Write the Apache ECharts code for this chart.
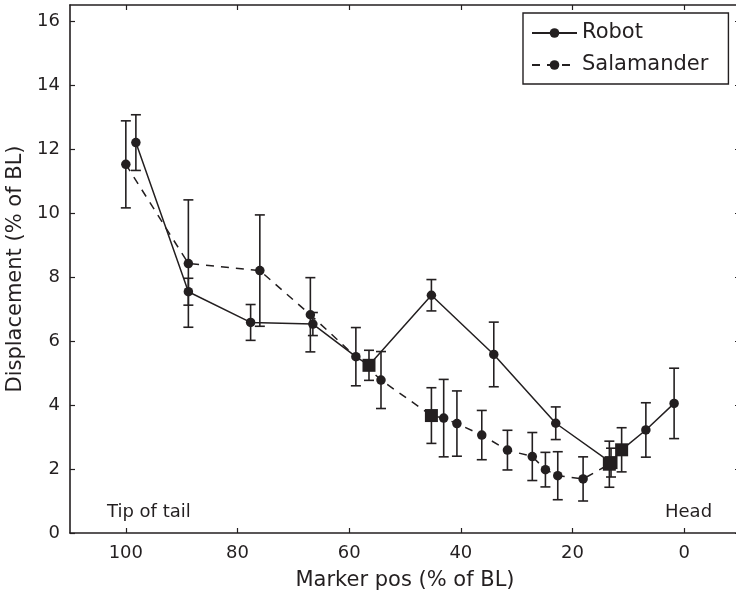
<!DOCTYPE html>
<html>
<head>
<meta charset="utf-8">
<script src="https://cdn.jsdelivr.net/npm/echarts@6/dist/echarts.min.js"></script>
<style>
html,body{margin:0;padding:0;background:#fff;}
#chart{width:736px;height:599px;}
</style>
</head>
<body>
<div id="chart"></div>
<script>
// ---- data ----
const robotX   = [98.2, 88.8, 77.65, 66.5, 58.8, 56.45, 45.27, 34.1, 23.0, 13.1, 11.2, 6.86, 1.8];
const robotY   = [12.2, 7.54, 6.58, 6.53, 5.51, 5.24, 7.43, 5.58, 3.43, 2.2, 2.6, 3.22, 4.05];
const robotErr = [0.87, 0.42, 0.56, 0.36, 0.91, 0.47, 0.49, 1.01, 0.51, 0.45, 0.69, 0.85, 1.1];
const robotMarker = ['circle','circle','circle','circle','circle','rect','circle','circle','circle','rect','rect','circle','circle'];

const salX   = [100, 88.8, 76.0, 66.95, 54.3, 45.27, 43.07, 40.7, 36.25, 31.65, 27.2, 24.85, 22.64, 18.1, 13.4];
const salY   = [11.52, 8.42, 8.2, 6.82, 4.78, 3.67, 3.59, 3.42, 3.06, 2.59, 2.39, 1.98, 1.79, 1.69, 2.15];
const salErr = [1.36, 1.99, 1.74, 1.16, 0.89, 0.87, 1.21, 1.02, 0.77, 0.62, 0.75, 0.54, 0.75, 0.69, 0.72];
const salMarker = ['circle','circle','circle','circle','circle','rect','circle','circle','circle','circle','circle','circle','circle','circle','rect'];

const xTicks = [0, 20, 40, 60, 80, 100];
const yTicks = [0, 2, 4, 6, 8, 10, 12, 14, 16];
const seriesNames = ['Robot', 'Salamander'];
const xName = 'Marker pos (% of BL)';
const yName = 'Displacement (% of BL)';
const noteLeft = 'Tip of tail';
const noteRight = 'Head';

// ---- style ----
const INK = '#231f20';
const FONT = 'DejaVu Sans';

function pts(xs, ys, marks) {
  return xs.map((x, i) => ({
    value: [x, ys[i]],
    symbol: marks[i],
    symbolSize: marks[i] === 'rect' ? 13 : 9.5
  }));
}
function errData(xs, ys, es) {
  return xs.map((x, i) => [x, ys[i], es[i]]);
}
function errRender(params, api) {
  const x = api.value(0), y = api.value(1), e = api.value(2);
  const t = api.coord([x, y + e]);
  const b = api.coord([x, y - e]);
  const hw = 5;
  const st = { stroke: INK, lineWidth: 1.6, fill: null };
  return {
    type: 'group',
    children: [
      { type: 'line', shape: { x1: t[0], y1: t[1], x2: b[0], y2: b[1] }, style: st },
      { type: 'line', shape: { x1: t[0] - hw, y1: t[1], x2: t[0] + hw, y2: t[1] }, style: st },
      { type: 'line', shape: { x1: b[0] - hw, y1: b[1], x2: b[0] + hw, y2: b[1] }, style: st }
    ]
  };
}

const axisCommonX = {
  type: 'value', min: -10, max: 110, inverse: true,
  splitLine: { show: false },
  axisLine: { show: true, onZero: false, lineStyle: { color: INK, width: 1.6 } },
  axisTick: { show: true, inside: true, length: 5, customValues: xTicks, lineStyle: { color: INK, width: 1.2 } }
};
const axisCommonY = {
  type: 'value', min: 0, max: 16.5,
  splitLine: { show: false },
  axisLine: { show: true, onZero: false, lineStyle: { color: INK, width: 1.6 } },
  axisTick: { show: true, inside: true, length: 5, customValues: yTicks, lineStyle: { color: INK, width: 1.2 } }
};

const chart = echarts.init(document.getElementById('chart'), null, { renderer: 'canvas' });
chart.setOption({
  animation: false,
  backgroundColor: '#fff',
  textStyle: { fontFamily: FONT, color: INK },
  grid: { left: 70, top: 5, width: 670, height: 528, containLabel: false, outerBoundsMode: 'none' },
  xAxis: [
    Object.assign({}, axisCommonX, {
      position: 'bottom',
      name: xName, nameLocation: 'middle', nameGap: 37,
      nameTextStyle: { fontFamily: FONT, fontSize: 21, color: INK },
      axisLabel: { show: true, margin: 11, customValues: xTicks, fontFamily: FONT, fontSize: 18, color: INK }
    }),
    Object.assign({}, axisCommonX, {
      position: 'top',
      axisLabel: { show: false }
    })
  ],
  yAxis: [
    Object.assign({}, axisCommonY, {
      position: 'left',
      name: yName, nameLocation: 'middle', nameGap: 44,
      nameTextStyle: { fontFamily: FONT, fontSize: 21, color: INK },
      axisLabel: { show: true, margin: 10, customValues: yTicks, fontFamily: FONT, fontSize: 18, color: INK }
    }),
    Object.assign({}, axisCommonY, {
      position: 'right',
      axisLabel: { show: false }
    })
  ],
  legend: {
    left: 523, top: 13,
    orient: 'vertical',
    data: seriesNames,
    backgroundColor: '#fff',
    borderColor: INK, borderWidth: 1.4,
    padding: [9, 20, 8, 8],
    itemWidth: 45, itemHeight: 12, itemGap: 10,
    textStyle: { fontFamily: FONT, fontSize: 21, color: INK, lineHeight: 22 }
  },
  graphic: [
    { type: 'text', left: 107, top: 503, style: { text: noteLeft, font: '18px "DejaVu Sans"', fill: INK } },
    { type: 'text', left: 665, top: 503, style: { text: noteRight, font: '18px "DejaVu Sans"', fill: INK } }
  ],
  series: [
    {
      type: 'custom', name: 'robotErr', renderItem: errRender,
      data: errData(robotX, robotY, robotErr), z: 2, silent: true
    },
    {
      type: 'custom', name: 'salErr', renderItem: errRender,
      data: errData(salX, salY, salErr), z: 2, silent: true
    },
    {
      type: 'line', name: seriesNames[0],
      data: pts(robotX, robotY, robotMarker),
      symbol: 'circle', symbolSize: 9.5,
      lineStyle: { color: INK, width: 1.5, type: 'solid' },
      itemStyle: { color: INK, borderWidth: 0 },
      z: 3
    },
    {
      type: 'line', name: seriesNames[1],
      data: pts(salX, salY, salMarker),
      symbol: 'circle', symbolSize: 9.5,
      lineStyle: { color: INK, width: 1.5, type: [8, 7] },
      itemStyle: { color: INK, borderWidth: 0 },
      z: 3
    }
  ]
});
</script>
</body>
</html>
